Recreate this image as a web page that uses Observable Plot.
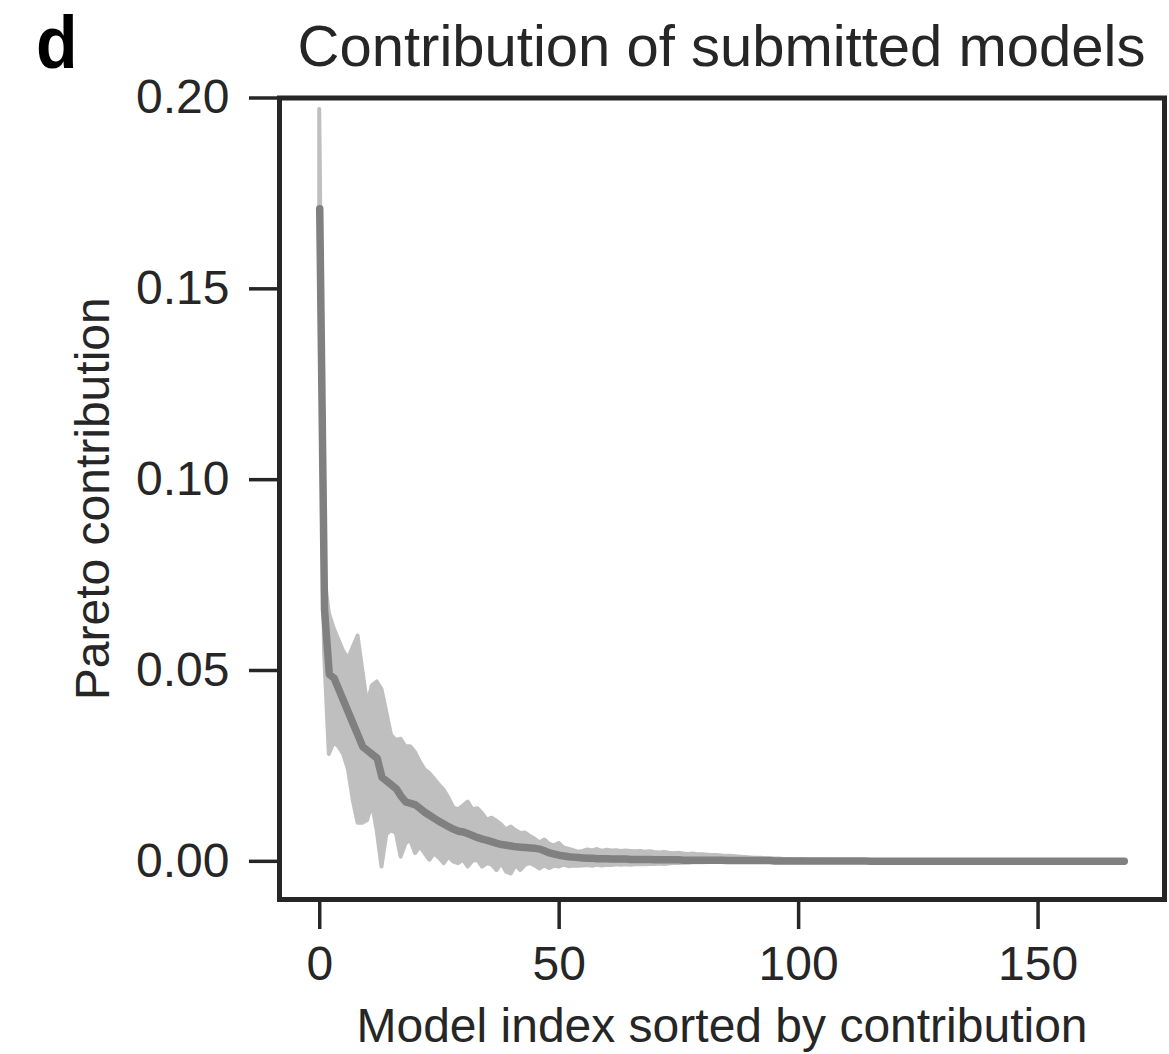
<!DOCTYPE html>
<html>
<head>
<meta charset="utf-8">
<script src="https://cdn.jsdelivr.net/npm/d3@7"></script>
<script src="https://cdn.jsdelivr.net/npm/@observablehq/plot@0.6"></script>
<style>
  html, body { margin: 0; padding: 0; background: #fff; }
  #wrap { position: relative; width: 1169px; height: 1054px; font-family: "Liberation Sans", Arial, sans-serif; color: #262626; }
  #header { position: relative; width: 1169px; height: 40px; }
  #panel { position: absolute; left: 36px; top: 6px; font-size: 74px; font-weight: bold; line-height: 74px; color: #000; transform-origin: left top; transform: scaleX(0.92); }
  #title { position: absolute; left: 279px; width: 885px; top: 17px; text-align: center; font-size: 58px; line-height: 58px; white-space: nowrap; }
  #chart svg { overflow: visible; }
</style>
</head>
<body>
<div id="wrap">
  <div id="header">
    <div id="panel">d</div>
    <div id="title">Contribution of submitted models</div>
  </div>
  <div id="chart"></div>
</div>
<script>
// Model index 0..168
const modelIndex = [
  0,1,2,3,4,5,6,7,8,9,10,11,12,13,14,15,16,17,18,19,
  20,21,22,23,24,25,26,27,28,29,30,31,32,33,34,35,36,37,38,39,
  40,41,42,43,44,45,46,47,48,49,50,51,52,53,54,55,56,57,58,59,
  60,61,62,63,64,65,66,67,68,69,70,71,72,73,74,75,76,77,78,79,
  80,81,82,83,84,85,86,87,88,89,90,91,92,93,94,95,96,97,98,99,
  100,101,102,103,104,105,106,107,108,109,110,111,112,113,114,115,116,117,118,119,
  120,121,122,123,124,125,126,127,128,129,130,131,132,133,134,135,136,137,138,139,
  140,141,142,143,144,145,146,147,148,149,150,151,152,153,154,155,156,157,158,159,
  160,161,162,163,164,165,166,167,168
];

// Mean Pareto contribution
const meanContribution = [
  0.171, 0.066, 0.049, 0.048, 0.045, 0.042, 0.039, 0.036, 0.033, 0.030,
  0.029, 0.028, 0.027, 0.022, 0.021, 0.020, 0.019, 0.017, 0.0155, 0.0152,
  0.0148, 0.0138, 0.0128, 0.0120, 0.0112, 0.0104, 0.0097, 0.0090, 0.0084, 0.0079,
  0.0077, 0.0072, 0.0067, 0.0062, 0.0058, 0.0055, 0.0051, 0.0047, 0.0044, 0.0042,
  0.0040, 0.0038, 0.0037, 0.0036, 0.0035, 0.0034, 0.0032, 0.0027, 0.0022, 0.0019,
  0.0016, 0.0014, 0.0012, 0.0011, 0.0010, 0.0009, 0.0008, 0.0008, 0.0007, 0.0007,
  0.0007, 0.0006, 0.0006, 0.0006, 0.0006, 0.0005, 0.0005, 0.0005, 0.0005, 0.0005,
  0.0004, 0.0004, 0.0004, 0.0004, 0.0004, 0.0004, 0.0003, 0.0003, 0.0003, 0.0003,
  0.0003, 0.0003, 0.0003, 0.0003, 0.0003, 0.0002, 0.0002, 0.0002, 0.0002, 0.0002,
  0.0002, 0.0002, 0.0002, 0.0002, 0.0002, 0.0001, 0.0001, 0.0001, 0.0001, 0.0001,
  0.0001, 0.0001, 0.0001, 0.0001, 0.0001, 0.0001, 0.0001, 0.0001, 0.0001, 0.0001,
  0.0001, 0.0001, 0.0001, 0.0001, 0.0001, 0, 0, 0, 0, 0,
  0, 0, 0, 0, 0, 0, 0, 0, 0, 0,
  0, 0, 0, 0, 0, 0, 0, 0, 0, 0,
  0, 0, 0, 0, 0, 0, 0, 0, 0, 0,
  0, 0, 0, 0, 0, 0, 0, 0, 0, 0,
  0, 0, 0, 0, 0, 0, 0, 0, 0
];

// Upper edge of the shaded band
const upperContribution = [
  0.197, 0.075, 0.065, 0.061, 0.058, 0.055, 0.053, 0.056, 0.059, 0.050,
  0.041, 0.046, 0.047, 0.045, 0.039, 0.033, 0.0317, 0.032, 0.030, 0.030,
  0.0285, 0.026, 0.024, 0.023, 0.0215, 0.020, 0.0186, 0.0165, 0.014, 0.0135,
  0.0145, 0.0155, 0.0135, 0.0138, 0.0125, 0.0108, 0.0113, 0.0105, 0.0095, 0.0082,
  0.0090, 0.0080, 0.0073, 0.0074, 0.0065, 0.0058, 0.0048, 0.0056, 0.0045, 0.0040,
  0.0047, 0.0035, 0.0032, 0.0028, 0.0024, 0.0026, 0.0030, 0.0027, 0.0031, 0.0026,
  0.0029, 0.0027, 0.0028, 0.0026, 0.0027, 0.0026, 0.0025, 0.0026, 0.0024, 0.0025,
  0.0023, 0.0022, 0.0023, 0.0021, 0.0020, 0.0021, 0.0019, 0.0018, 0.0019, 0.0017,
  0.0017, 0.0016, 0.0015, 0.0015, 0.0014, 0.0013, 0.0013, 0.0012, 0.0011, 0.0010,
  0.0009, 0.0008, 0.0008, 0.0007, 0.0007, 0.0006, 0.0006, 0.0005, 0.0005, 0.0004,
  0.0004, 0.0004, 0.0003, 0.0003, 0.0003, 0.0003, 0.0002, 0.0002, 0.0002, 0.0002,
  0.0002, 0.0002, 0.0002, 0.0001, 0.0001, 0.0001, 0.0001, 0.0001, 0.0001, 0.0001,
  0.0001, 0.0001, 0.0001, 0.0001, 0.0001, 0, 0, 0, 0, 0,
  0, 0, 0, 0, 0, 0, 0, 0, 0, 0,
  0, 0, 0, 0, 0, 0, 0, 0, 0, 0,
  0, 0, 0, 0, 0, 0, 0, 0, 0, 0,
  0, 0, 0, 0, 0, 0, 0, 0, 0
];

// Lower edge of the shaded band
const lowerContribution = [
  0.160, 0.055, 0.028, 0.031, 0.030, 0.028, 0.024, 0.016, 0.010, 0.010,
  0.0107, 0.015, 0.008, -0.0015, 0.007, 0.008, 0.0073, 0.0011, 0.0046, 0.0055,
  0.002, 0.0038, 0.002, 0.0003, 0.002, 0.0008, -0.0006, 0.0011, -0.0002, -0.0006,
  0.0003, -0.0015, 0.0, 0.0003, -0.0015, -0.0006, -0.001, -0.0024, -0.0006, -0.0028,
  -0.0033, -0.0011, -0.0024, -0.001, -0.0006, -0.0012, -0.002, -0.0012, -0.0019, -0.0013,
  -0.0015, -0.001, -0.0014, -0.0012, -0.0013, -0.0012, -0.0011, -0.0013, -0.0010, -0.0012,
  -0.0010, -0.0011, -0.0009, -0.0010, -0.0009, -0.0010, -0.0009, -0.0008, -0.0009, -0.0008,
  -0.0008, -0.0007, -0.0008, -0.0007, -0.0006, -0.0006, -0.0005, -0.0005, -0.0004, -0.0004,
  -0.0004, -0.0003, -0.0003, -0.0003, -0.0002, -0.0002, -0.0002, -0.0001, -0.0001, -0.0001,
  0, 0, 0, 0, 0, 0, 0, 0, 0, 0,
  0, 0, 0, 0, 0, 0, 0, 0, 0, 0,
  0, 0, 0, 0, 0, 0, 0, 0, 0, 0,
  0, 0, 0, 0, 0, 0, 0, 0, 0, 0,
  0, 0, 0, 0, 0, 0, 0, 0, 0, 0,
  0, 0, 0, 0, 0, 0, 0, 0, 0, 0,
  0, 0, 0, 0, 0, 0, 0, 0, 0, 0,
  0, 0, 0, 0, 0, 0, 0, 0, 0
];

const xTicks = [0, 50, 100, 150];
const yTicks = [0, 0.05, 0.10, 0.15, 0.20];

const rows = modelIndex.map((i, k) => ({
  i,
  mean: meanContribution[k],
  lo: lowerContribution[k],
  hi: upperContribution[k]
}));

const chart = Plot.plot({
  width: 1169,
  height: 1014,
  marginLeft: 279,
  marginRight: 5,
  marginTop: 57.5,
  marginBottom: 155,
  style: { fontFamily: "'Liberation Sans', Arial, sans-serif", fontSize: "48px", color: "#262626", background: "transparent" },
  x: { domain: [-8.4, 176.4] },
  y: { domain: [-0.01, 0.2] },
  marks: [
    Plot.areaY(rows, { x: "i", y1: "lo", y2: "hi", fill: "#bfbfbf", stroke: "#bfbfbf", strokeWidth: 4, strokeLinejoin: "round", strokeLinecap: "round", curve: "linear" }),
    Plot.lineY(rows, { x: "i", y: "mean", stroke: "#808080", strokeWidth: 7.5, strokeLinecap: "round", strokeLinejoin: "round" }),
    Plot.frame({ stroke: "#262626", strokeWidth: 5 }),
    Plot.axisX({
      ticks: xTicks, tickSize: 30, tickPadding: 16, strokeWidth: 3.5, fontSize: 48,
      label: "Model index sorted by contribution", labelAnchor: "center", labelArrow: "none", labelOffset: 142
    }),
    Plot.axisY({
      ticks: yTicks, tickFormat: d3.format(".2f"), tickSize: 30, tickPadding: 20, strokeWidth: 3.5, fontSize: 48,
      label: "Pareto contribution", labelAnchor: "center", labelArrow: "none", labelOffset: 205
    })
  ]
});
document.getElementById("chart").appendChild(chart);
</script>
</body>
</html>
